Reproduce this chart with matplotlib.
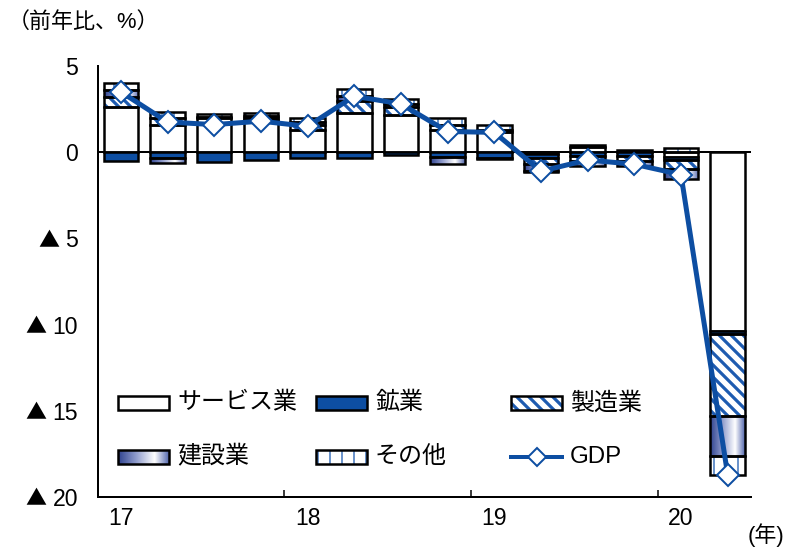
import numpy as np
import matplotlib
matplotlib.use("Agg")
import matplotlib.pyplot as plt
from matplotlib.colors import LinearSegmentedColormap
from matplotlib.patches import Rectangle
from matplotlib.transforms import blended_transform_factory, offset_copy

# ---- data: contributions to real GDP growth (yoy, percentage points) ----
quarters = ["17Q1", "17Q2", "17Q3", "17Q4", "18Q1", "18Q2", "18Q3", "18Q4",
            "19Q1", "19Q2", "19Q3", "19Q4", "20Q1", "20Q2"]
year_labels = ["17", "18", "19", "20"]
series_names = ["サービス業", "鉱業", "製造業", "建設業", "その他"]

services      = [2.6, 1.55, 2.0, 1.85, 1.3, 2.3, 2.15, 1.3, 1.15, -0.1, 0.3, 0.1, -0.3, -10.35]
mining        = [-0.5, -0.35, -0.55, -0.45, -0.35, -0.35, -0.15, -0.3, -0.35, -0.25, -0.2, -0.2, -0.15, -0.2]
manufacturing = [0.6, 0.45, 0.05, 0.15, 0.3, 0.65, 0.45, 0.3, 0.15, -0.35, -0.3, -0.3, -0.55, -4.75]
construction  = [0.4, -0.25, 0.0, 0.1, 0.15, 0.3, 0.2, -0.4, -0.05, -0.4, -0.3, -0.3, -0.55, -2.3]
other         = [0.4, 0.35, 0.15, 0.2, 0.25, 0.4, 0.3, 0.4, 0.25, -0.05, 0.1, 0.0, 0.25, -1.1]
gdp           = [3.5, 1.75, 1.6, 1.8, 1.5, 3.25, 2.8, 1.2, 1.15, -1.1, -0.45, -0.7, -1.3, -18.7]

yticks = [5, 0, -5, -10, -15, -20]

# ---- style ----
DPI = 72
W, H = 790, 548
BLUE = "#0D4EA2"
HATCH_BLUE = "#1E5BB0"
EDGE = 2.5
BAR_W = 0.74
FONT = ["Liberation Sans", "Noto Sans CJK JP", "DejaVu Sans"]
plt.rcParams["font.family"] = FONT

grad_cmap = LinearSegmentedColormap.from_list(
    "constr", [(0.0, "#2E428F"), (0.35, "#8E9ACB"), (0.72, "#FFFFFF"), (1.0, "#5468AE")])
gradient = np.linspace(0, 1, 256)[None, :]

DIAG_HATCH, DIAG_LW = "\\\\", 3.2
VERT_HATCH, VERT_LW = "|", 1.3

fig = plt.figure(figsize=(W / DPI, H / DPI), dpi=DPI)
ax = fig.add_axes([97.5 / W, 1 - 497 / H, (751 - 97.5) / W, (497 - 66) / H])

x = np.arange(len(quarters))
vals = np.array([services, mining, manufacturing, construction, other], dtype=float)
pos = np.where(vals > 0, vals, 0.0)
neg = np.where(vals < 0, vals, 0.0)
zeros = np.zeros((1, vals.shape[1]))
pos_base = np.vstack([zeros, np.cumsum(pos, axis=0)[:-1]])
neg_base = np.vstack([zeros, np.cumsum(neg, axis=0)[:-1]])
bottoms = np.where(vals >= 0, pos_base, neg_base)


def set_hlw(bars, lw):
    for p in bars:
        if hasattr(p, "set_hatch_linewidth"):
            p.set_hatch_linewidth(lw)


def outline(idx, sel):
    ax.bar(x[sel], vals[idx][sel], BAR_W, bottom=bottoms[idx][sel],
           facecolor="none", edgecolor="black", linewidth=EDGE, zorder=3)


ax.axhline(0, color="black", linewidth=2, zorder=1.5)

# services
sel = vals[0] != 0
ax.bar(x[sel], vals[0][sel], BAR_W, bottom=bottoms[0][sel],
       facecolor="white", edgecolor="black", linewidth=EDGE, zorder=3)

# mining
sel = vals[1] != 0
ax.bar(x[sel], vals[1][sel], BAR_W, bottom=bottoms[1][sel],
       facecolor=BLUE, edgecolor="black", linewidth=EDGE, zorder=3)

# manufacturing (diagonal stripes)
sel = vals[2] != 0
plt.rcParams["hatch.linewidth"] = DIAG_LW
b = ax.bar(x[sel], vals[2][sel], BAR_W, bottom=bottoms[2][sel],
           facecolor="white", edgecolor=HATCH_BLUE, linewidth=0, hatch=DIAG_HATCH, zorder=2.5)
set_hlw(b, DIAG_LW)
outline(2, sel)

# construction (horizontal gradient)
sel = vals[3] != 0
for xi, v, bt in zip(x[sel], vals[3][sel], bottoms[3][sel]):
    ax.imshow(gradient, extent=[xi - BAR_W / 2, xi + BAR_W / 2, bt, bt + v],
              aspect="auto", cmap=grad_cmap, interpolation="bilinear", zorder=2.5)
outline(3, sel)

# other (vertical lines)
sel = vals[4] != 0
plt.rcParams["hatch.linewidth"] = VERT_LW
b = ax.bar(x[sel], vals[4][sel], BAR_W, bottom=bottoms[4][sel],
           facecolor="white", edgecolor=HATCH_BLUE, linewidth=0, hatch=VERT_HATCH, zorder=2.5)
set_hlw(b, VERT_LW)
outline(4, sel)

# GDP line
ax.plot(x, gdp, color=BLUE, linewidth=5, marker="D", markersize=16,
        markerfacecolor="white", markeredgecolor=BLUE, markeredgewidth=2, zorder=5)

ax.set_xlim(-0.5, len(quarters) - 0.5)
ax.set_ylim(-20, 5)

for s in ["top", "right"]:
    ax.spines[s].set_visible(False)
for s in ["left", "bottom"]:
    ax.spines[s].set_linewidth(2)

# y tick labels: number plus a ▲ sign for negatives
ax.set_yticks(yticks)
ax.set_yticklabels([])
ax.tick_params(axis="y", length=0)
ytrans = offset_copy(blended_transform_factory(ax.transAxes, ax.transData),
                     fig=fig, x=-19.5, y=0, units="dots")
for v in yticks:
    num = ax.text(0, v, f"{abs(v)}", transform=ytrans, fontsize=23,
                  ha="right", va="center_baseline", clip_on=False)
    if v < 0:
        ax.annotate("▲", xy=(0, 0.5), xycoords=num, xytext=(-6, 0),
                    textcoords="offset points", fontsize=21, ha="right", va="center",
                    family=["Noto Sans CJK JP", "DejaVu Sans"], annotation_clip=False)

ax.set_xticks([3.5, 7.5, 11.5])
ax.set_xticklabels([])
ax.tick_params(axis="x", which="major", direction="in", length=7, width=1.5)
ax.set_xticks(x[::4], minor=True)
ax.set_xticklabels(year_labels, minor=True, fontsize=23)
ax.tick_params(axis="x", which="minor", length=0, pad=10)

fig.text(8 / W, 1 - 22 / H, "（前年比、%）", fontsize=22, ha="left", va="center")
fig.text(748 / W, 1 - 535 / H, "(年)", fontsize=22, ha="left", va="center")

# ---- legend (pixel-coordinate overlay) ----
lg = fig.add_axes([0, 0, 1, 1], zorder=10)
lg.set_axis_off()

sw_w, sw_h = 51, 14
cols = [118, 316, 511]
rows = [403, 457]
entries = [("サービス業", "services", 0, 0), ("鉱業", "mining", 0, 1), ("製造業", "manufacturing", 0, 2),
           ("建設業", "construction", 1, 0), ("その他", "other", 1, 1), ("GDP", "gdp", 1, 2)]

for label, kind, r, c in entries:
    x0, yc = cols[c], rows[r]
    y0 = yc - sw_h / 2
    if kind == "gdp":
        lg.plot([x0, x0 + sw_w], [yc, yc], color=BLUE, linewidth=4, zorder=11)
        lg.plot([x0 + sw_w / 2], [yc], marker="D", markersize=13, color=BLUE,
                markerfacecolor="white", markeredgewidth=2, zorder=12)
    elif kind == "construction":
        lg.imshow(gradient, extent=[x0, x0 + sw_w, y0 + sw_h, y0], aspect="auto",
                  cmap=grad_cmap, interpolation="bilinear", zorder=11)
        lg.add_patch(Rectangle((x0, y0), sw_w, sw_h, facecolor="none",
                               edgecolor="black", linewidth=EDGE, zorder=12))
    elif kind == "services":
        lg.add_patch(Rectangle((x0, y0), sw_w, sw_h, facecolor="white",
                               edgecolor="black", linewidth=EDGE, zorder=12))
    elif kind == "mining":
        lg.add_patch(Rectangle((x0, y0), sw_w, sw_h, facecolor=BLUE,
                               edgecolor="black", linewidth=EDGE, zorder=12))
    else:
        hatch, hlw = (DIAG_HATCH, DIAG_LW) if kind == "manufacturing" else (VERT_HATCH, VERT_LW)
        plt.rcParams["hatch.linewidth"] = hlw
        p = Rectangle((x0, y0), sw_w, sw_h, facecolor="white", edgecolor=HATCH_BLUE,
                      linewidth=0, hatch=hatch, zorder=11)
        set_hlw([p], hlw)
        lg.add_patch(p)
        lg.add_patch(Rectangle((x0, y0), sw_w, sw_h, facecolor="none",
                               edgecolor="black", linewidth=EDGE, zorder=12))
    lg.text(x0 + sw_w + 8, yc, label, fontsize=24, ha="left", va="center", zorder=12)

lg.set_xlim(0, W)
lg.set_ylim(H, 0)

fig.savefig("out.png", dpi=DPI)
